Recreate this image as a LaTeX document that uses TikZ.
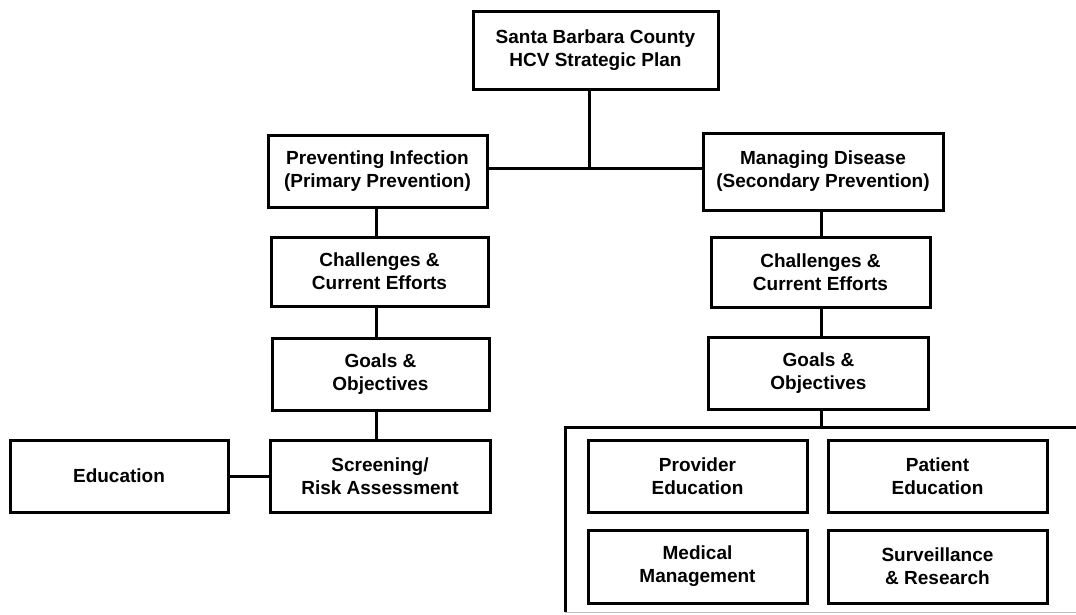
\documentclass[tikz,border=0pt]{standalone}
\usepackage{fontspec}
\setmainfont{Liberation Sans}
\begin{document}
\begin{tikzpicture}[x=1pt,y=-1pt,
  box/.style={draw=black, line width=3pt, fill=white, align=center, inner sep=0pt, outer sep=0pt,
    font=\bfseries\fontsize{19}{23}\selectfont},
  link/.style={draw=black, line width=3pt},
  frame/.style={draw=black, line width=3pt}]
\useasboundingbox (0,0) rectangle (1076,614);
% top
\node[box, minimum width=245, minimum height=78] (top) at (595.5,50) {Santa Barbara County\\HCV Strategic Plan};
% left column
\node[box, minimum width=219, minimum height=72] (prev) at (377.5,171) {Preventing Infection\\(Primary Prevention)};
\node[box, minimum width=217, minimum height=69] (lch) at (379.5,271.5) {Challenges \&\\Current Efforts};
\node[box, minimum width=217, minimum height=72] (lgo) at (380.5,374) {Goals \&\\Objectives};
\node[box, minimum width=220, minimum height=72] (scr) at (380,476) {Screening/\\Risk Assessment};
\node[box, minimum width=218, minimum height=72] (edu) at (119,476) {Education};
% right column
\node[box, minimum width=240, minimum height=77] (man) at (823,171.5) {Managing Disease\\(Secondary Prevention)};
\node[box, minimum width=219, minimum height=70] (rch) at (820.5,272) {Challenges \&\\Current Efforts};
\node[box, minimum width=220, minimum height=72] (rgo) at (818.5,373) {Goals \&\\Objectives};
% container (right edge falls outside the picture)
\node[inner sep=0pt, outer sep=0pt, minimum width=525, minimum height=185] (cont) at (827.5,519.5) {};
\draw[frame] (cont.north east) -- (cont.north west) -- (cont.south west);
\draw[black!25, line width=1pt] (cont.south west) -- (cont.south east);
\node[box, minimum width=219, minimum height=72] (prov) at (697.5,476) {Provider\\Education};
\node[box, minimum width=219, minimum height=72] (pat) at (937.5,476) {Patient\\Education};
\node[box, minimum width=219, minimum height=73] (med) at (697.5,566.5) {Medical\\Management};
\node[box, minimum width=219, minimum height=73] (surv) at (937.5,566.5) {Surveillance\\\& Research};
% connectors
\coordinate (j) at (589,168);
\coordinate (lx) at (376,0);
\coordinate (rx) at (821,0);
\draw[link] (top.south -| j) -- (j);
\draw[link] (prev.east |- j) -- (man.west |- j);
\draw[link] (prev.south -| lx) -- (lch.north -| lx);
\draw[link] (lch.south -| lx) -- (lgo.north -| lx);
\draw[link] (lgo.south -| lx) -- (scr.north -| lx);
\draw[link] (edu.east) -- (scr.west);
\draw[link] (man.south -| rx) -- (rch.north -| rx);
\draw[link] (rch.south -| rx) -- (rgo.north -| rx);
\draw[link] (rgo.south -| rx) -- (cont.north -| rx);
\end{tikzpicture}
\end{document}
